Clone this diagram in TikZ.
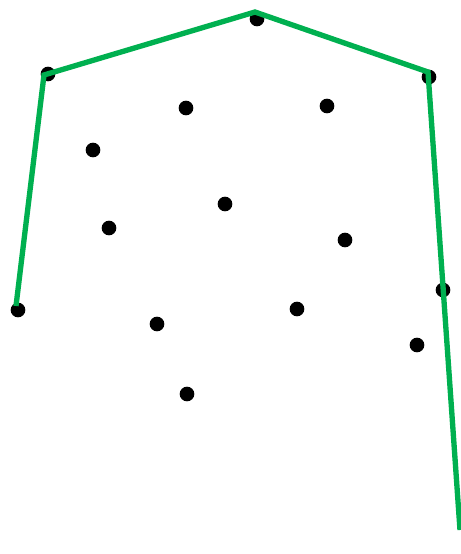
\documentclass[tikz,border=0pt]{standalone}
\usepackage{tikz}
\definecolor{hullGreen}{HTML}{00B050}

\begin{document}
\begin{tikzpicture}[x=0.75pt, y=-0.75pt,
    dot/.style={circle, fill=black, inner sep=0pt, minimum size=11pt},
    hull/.style={draw=hullGreen, line width=4pt, line join=miter}]

    \useasboundingbox (0,0) rectangle (461,554);

    % point set
    \foreach \n/\x/\y in {p1/18/310, p2/48/74, p3/257/19, p4/429/77,
                          p5/186/108, p6/327/106, p7/93/150, p8/225/204,
                          p9/109/228, p10/345/240, p11/443/290, p12/297/309,
                          p13/157/324, p14/417/345, p15/187/394} {
        \node[dot] (\n) at (\x,\y) {};
    }

    % corners of the hull walk
    \coordinate (h1) at (16,306);
    \coordinate (h2) at (44,75);
    \coordinate (h3) at (255,12);
    \coordinate (h4) at (428,72);
    \coordinate (tail) at (460,530);

    \draw[hull] (h1) -- (h2) -- (h3) -- (h4) -- (tail);

\end{tikzpicture}
\end{document}
